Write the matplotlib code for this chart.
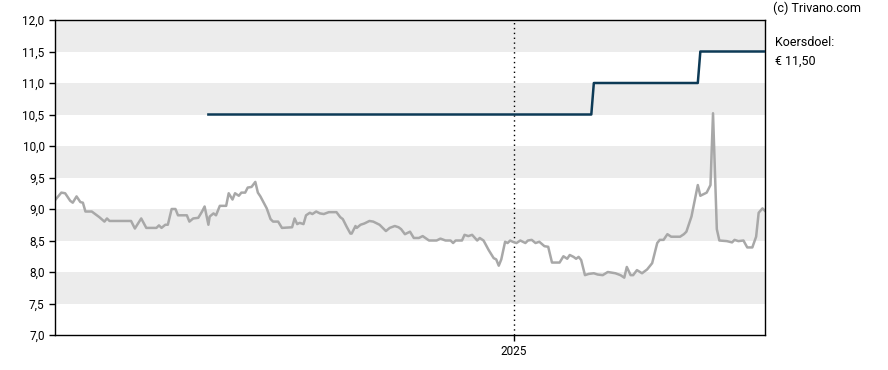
import matplotlib.pyplot as plt
import pandas as pd
from matplotlib.ticker import FuncFormatter

# ----------------------------
# Data (days counted from 2024-01-01)
# ----------------------------
start = pd.Timestamp("2024-01-01")

price_days = [
    4, 9, 12, 16, 18, 21, 24, 26, 28, 33, 37, 39, 43, 45, 47, 64, 67, 72, 76, 84,
    86, 88, 91, 93, 96, 99, 101, 108, 110, 113, 117, 120, 122, 125, 126, 129, 131, 134, 139, 141,
    144, 146, 149, 151, 154, 156, 159, 162, 164, 166, 171, 174, 176, 180, 183, 191, 193, 195, 197, 200,
    202, 205, 207, 210, 213, 216, 220, 226, 229, 231, 234, 237, 238, 241, 242, 245, 248, 252, 255, 258,
    260, 265, 268, 272, 275, 277, 280, 284, 287, 291, 294, 299, 305, 308, 312, 316, 318, 320, 325, 327,
    330, 333, 337, 339, 342, 346, 350, 352, 354, 356, 359, 361, 363, 365, 368, 371, 375, 377, 380, 383,
    386, 390, 393, 396, 402, 405, 408, 410, 413, 415, 417, 419, 422, 425, 429, 432, 436, 440, 446, 450,
    453, 455, 458, 460, 463, 467, 471, 475, 479, 481, 484, 487, 490, 497, 500, 502, 506, 511, 513, 517,
    518, 521, 523, 526, 528, 534, 538, 540, 543, 547, 550, 554, 557, 559, 562, 564,
]
price_values = [
    9.14, 9.26, 9.25, 9.13, 9.10, 9.20, 9.11, 9.10, 8.96, 8.96, 8.90, 8.87, 8.80, 8.85, 8.81, 8.81, 8.69, 8.85, 8.70, 8.70,
    8.74, 8.70, 8.75, 8.75, 9.00, 9.00, 8.90, 8.90, 8.80, 8.85, 8.86, 8.96, 9.04, 8.75, 8.88, 8.93, 8.90, 9.05, 9.05, 9.25,
    9.15, 9.25, 9.21, 9.26, 9.26, 9.34, 9.35, 9.43, 9.26, 9.20, 9.01, 8.84, 8.80, 8.80, 8.70, 8.71, 8.85, 8.76, 8.78, 8.76,
    8.90, 8.94, 8.92, 8.96, 8.93, 8.92, 8.95, 8.95, 8.87, 8.84, 8.72, 8.61, 8.61, 8.73, 8.70, 8.75, 8.77, 8.81, 8.80, 8.77,
    8.75, 8.65, 8.70, 8.73, 8.71, 8.68, 8.60, 8.64, 8.54, 8.54, 8.57, 8.50, 8.50, 8.53, 8.50, 8.50, 8.46, 8.50, 8.50, 8.59,
    8.57, 8.59, 8.50, 8.54, 8.50, 8.35, 8.22, 8.20, 8.10, 8.20, 8.48, 8.46, 8.50, 8.48, 8.46, 8.50, 8.46, 8.50, 8.51, 8.46,
    8.48, 8.41, 8.40, 8.15, 8.15, 8.25, 8.21, 8.27, 8.24, 8.21, 8.24, 8.19, 7.95, 7.97, 7.98, 7.96, 7.95, 8.00, 7.98, 7.95,
    7.91, 8.08, 7.95, 7.95, 8.03, 7.98, 8.04, 8.14, 8.46, 8.51, 8.51, 8.60, 8.56, 8.56, 8.60, 8.64, 8.88, 9.38, 9.21, 9.25,
    9.26, 9.38, 10.52, 8.68, 8.50, 8.49, 8.47, 8.51, 8.49, 8.50, 8.39, 8.39, 8.56, 8.94, 9.01, 8.97,
]

target_days = [125, 427, 429, 511, 513, 564]
target_values = [10.5, 10.5, 11.0, 11.0, 11.5, 11.5]

y_ticks = [7.0, 7.5, 8.0, 8.5, 9.0, 9.5, 10.0, 10.5, 11.0, 11.5, 12.0]
bands = [(7.5, 8.0), (8.5, 9.0), (9.5, 10.0), (10.5, 11.0), (11.5, 12.0)]
year_tick = pd.Timestamp("2025-01-01")

price_dates = start + pd.to_timedelta(price_days, unit="D")
target_dates = start + pd.to_timedelta(target_days, unit="D")

# ----------------------------
# Plot styling
# ----------------------------
plt.rcParams["font.family"] = ["Roboto", "DejaVu Sans"]

fig = plt.figure(figsize=(8.88, 3.70), dpi=100)
ax = fig.add_axes([55 / 888, 35 / 370, 710 / 888, 315 / 370])

for lo, hi in bands:
    ax.axhspan(lo, hi, color="#ececec", lw=0, zorder=0)

ax.axvline(year_tick, color="black", linestyle=(0, (1, 2.5)), linewidth=1, zorder=1)

ax.plot(price_dates, price_values, color="#a8a8a8", linewidth=1.8, zorder=2)
ax.plot(target_dates, target_values, color="#0d3a56", linewidth=1.8, zorder=3)

ax.set_xlim(start + pd.Timedelta(days=4), start + pd.Timedelta(days=564))
ax.set_ylim(7.0, 12.0)
ax.set_yticks(y_ticks)
ax.yaxis.set_major_formatter(FuncFormatter(lambda v, p: f"{v:.1f}".replace(".", ",")))
ax.set_xticks([year_tick])
ax.set_xticklabels(["2025"])
ax.tick_params(axis="both", labelsize=8.5, length=4, width=1, colors="black")

for s in ax.spines.values():
    s.set_linewidth(1)
    s.set_color("black")

fig.text(773 / 888, 1 - 8 / 370, "(c) Trivano.com", fontsize=9, va="center", ha="left")
fig.text(775 / 888, 1 - 43 / 370, "Koersdoel:", fontsize=9, va="center", ha="left")
fig.text(775 / 888, 1 - 61 / 370, "€ 11,50", fontsize=9, va="center", ha="left")

plt.savefig("out.png", dpi=100)
